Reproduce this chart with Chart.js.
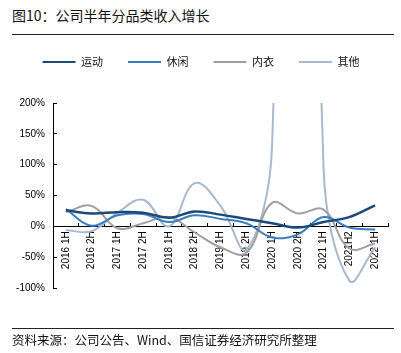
<!DOCTYPE html>
<html>
<head>
<meta charset="utf-8">
<script src="https://cdn.jsdelivr.net/npm/chart.js@4.4.0/dist/chart.umd.min.js"></script>
<style>
  body { margin: 0; background: #fff; }
  #wrap { position: relative; width: 401px; height: 353px; overflow: hidden; font-family: "Noto Sans CJK SC", sans-serif; }
  #title { position: absolute; left: 12px; top: 5px; font-size: 14px; color: #111; white-space: nowrap; }
  .rule { position: absolute; left: 12px; width: 382px; height: 1px; background: #222; }
  #source { position: absolute; left: 12px; top: 330px; font-size: 12.5px; color: #111; white-space: nowrap; }
  canvas { position: absolute; left: 0; top: 0; }
</style>
</head>
<body>
<div id="wrap">
  <div id="title">图10：公司半年分品类收入增长</div>
  <div class="rule" style="top:34px"></div>
  <canvas id="chart" width="401" height="353"></canvas>
  <div class="rule" style="top:328px"></div>
  <div id="source">资料来源：公司公告、Wind、国信证券经济研究所整理</div>
</div>
<script>
// half-year categories
const periods = ['2016 1H', '2016 2H', '2017 1H', '2017 2H', '2018 1H', '2018 2H',
  '2019 1H', '2019 2H', '2020 1H', '2020 2H', '2021 1H', '2021H2', '2022 1H'];

// growth, %
const sport = [26, 21, 23, 22, 14, 24, 19, 12, 5, -2, 7, 15, 34];
const casual = [28, 1, 18, 20, 7, 18, 12, 5, -18, -13, 15, -2, -5];
const underwear = [23, 33, -3, 5, 15, -10, -34, -43, 38, 21, 27, -36, -28];
const others = [-6, -8, 22, 43, 0, 70, 33, -38, 130, 2400, 95, -88, -34];

const yTicks = [-100, -50, 0, 50, 100, 150, 200];

const ctx = document.getElementById('chart').getContext('2d');
const chart = new Chart(ctx, {
  type: 'line',
  data: {
    labels: periods,
    datasets: [
      { label: '运动', data: sport, borderColor: '#1b4a7a', backgroundColor: '#1b4a7a', borderWidth: 2.5 },
      { label: '休闲', data: casual, borderColor: '#3a7ec2', backgroundColor: '#3a7ec2', borderWidth: 2 },
      { label: '内衣', data: underwear, borderColor: '#a0a0a0', backgroundColor: '#a0a0a0', borderWidth: 2 },
      { label: '其他', data: others, borderColor: '#a6b9ce', backgroundColor: '#a6b9ce', borderWidth: 2 }
    ]
  },
  options: {
    responsive: false,
    animation: false,
    layout: { padding: { top: 31.5, left: 14, right: 13, bottom: 65 } },
    elements: {
      point: { radius: 0 },
      line: { tension: 0.4, capBezierPoints: false }
    },
    plugins: {
      tooltip: { enabled: false },
      legend: {
        position: 'top',
        labels: {
          boxWidth: 33,
          boxHeight: 0,
          padding: 25,
          color: '#111',
          font: { family: '"Noto Sans CJK SC"', size: 11 },
          generateLabels: c => Chart.defaults.plugins.legend.labels.generateLabels(c)
            .map(item => Object.assign(item, { lineWidth: 2 }))
        }
      },
      // empty spacer between legend and plot
      subtitle: {
        display: true,
        text: '',
        weight: 500,
        font: { size: 1, lineHeight: 1 },
        padding: { top: 0, bottom: 24.5 }
      }
    },
    scales: {
      x: {
        position: { y: 0 },
        offset: true,
        grid: { display: true, drawOnChartArea: false, offset: true, tickLength: -4, color: '#000' },
        border: { color: '#000', width: 1 },
        ticks: {
          autoSkip: false,
          minRotation: 90,
          maxRotation: 90,
          padding: 9,
          color: '#000',
          font: { family: '"Liberation Sans"', size: 10 }
        }
      },
      y: {
        min: -100,
        max: 200,
        afterBuildTicks: s => { s.ticks = yTicks.map(v => ({ value: v })); },
        afterFit: s => { s.width = 39; },
        grid: { drawOnChartArea: false, tickLength: -4, color: '#000' },
        border: { color: '#000', width: 1 },
        ticks: {
          padding: 12,
          color: '#000',
          font: { family: '"Liberation Sans"', size: 10 },
          callback: v => v + '%'
        }
      }
    }
  }
});
</script>
</body>
</html>
